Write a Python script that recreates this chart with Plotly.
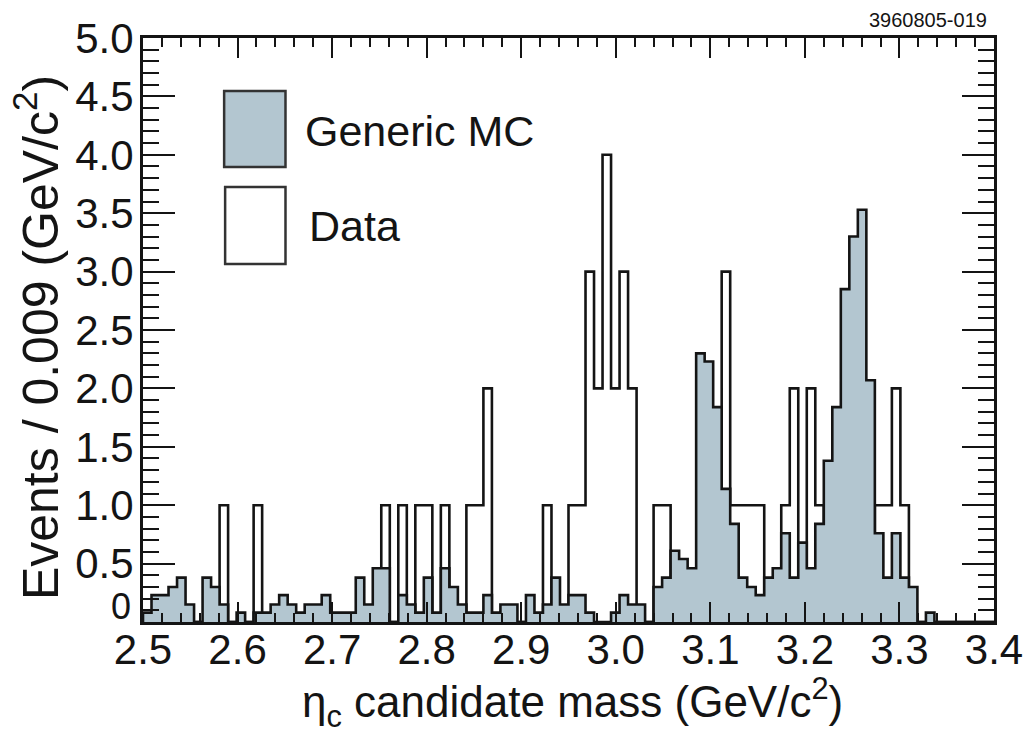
import numpy as np
import plotly.graph_objects as go

# ---- binning ----
bin_low = 2.5
bin_width = 0.009
n_bins = 100

# ---- histogram contents ----
data_counts = [
    0, 0, 0, 0, 0, 0, 0, 0, 0, 1,
    0, 0, 0, 1, 0, 0, 0, 0, 0, 0,
    0, 0, 0, 0, 0, 0, 0, 0, 1, 0,
    1, 0, 1, 1, 0, 1, 0, 0, 1, 1,
    2, 0, 0, 0, 0, 0, 0, 1, 0, 0,
    1, 1, 3, 2, 4, 2, 3, 2, 0, 0,
    1, 1, 0, 0, 0, 0, 0, 0, 3, 1,
    1, 1, 1, 0, 0, 1, 2, 0, 2, 1,
    0, 0, 0, 0, 0, 0, 1, 1, 2, 1,
    0, 0, 0, 0, 0, 0, 0, 0, 0, 0,
]

generic_mc = [
    0.08, 0.23, 0.23, 0.30, 0.38, 0.15, 0.00, 0.38, 0.30, 0.15,
    0.00, 0.08, 0.00, 0.08, 0.08, 0.15, 0.23, 0.15, 0.08, 0.15,
    0.15, 0.23, 0.08, 0.08, 0.08, 0.38, 0.15, 0.46, 0.46, 0.00,
    0.23, 0.15, 0.08, 0.38, 0.08, 0.46, 0.30, 0.15, 0.08, 0.08,
    0.23, 0.08, 0.15, 0.15, 0.00, 0.23, 0.08, 0.15, 0.38, 0.15,
    0.23, 0.23, 0.08, 0.00, 0.00, 0.08, 0.23, 0.15, 0.15, 0.00,
    0.30, 0.38, 0.61, 0.54, 0.46, 2.30, 2.23, 1.84, 1.14, 0.84,
    0.38, 0.30, 0.23, 0.38, 0.46, 0.76, 0.38, 0.68, 0.46, 0.84,
    1.38, 1.84, 2.85, 3.30, 3.53, 2.07, 0.76, 0.38, 0.76, 0.38,
    0.30, 0.00, 0.08, 0.00, 0.00, 0.00, 0.00, 0.00, 0.00, 0.00,
]

x_tick_vals = [2.5, 2.6, 2.7, 2.8, 2.9, 3.0, 3.1, 3.2, 3.3, 3.4]
x_tick_text = ["2.5", "2.6", "2.7", "2.8", "2.9", "3.0", "3.1", "3.2", "3.3", "3.4"]
# the "0" label sits slightly raised in the original; drawn separately below
y_tick_vals = [0.5, 1.0, 1.5, 2.0, 2.5, 3.0, 3.5, 4.0, 4.5, 5.0]
y_tick_text = ["0.5", "1.0", "1.5", "2.0", "2.5", "3.0", "3.5", "4.0", "4.5", "5.0"]
y_zero_label = "0"

MC_COLOR = "#b3c6d0"
INK = "#141414"
FONT = "Liberation Sans, Arial, Helvetica, sans-serif"

edges = bin_low + bin_width * np.arange(n_bins + 1)


def step_xy(values):
    xs = [edges[0]] + list(edges[:-1]) + [edges[-1], edges[-1]]
    ys = [0] + list(values) + [values[-1], 0]
    return xs, ys


fig = go.Figure()

dx, dy = step_xy(data_counts)
fig.add_trace(go.Scatter(
    x=dx, y=dy, mode="lines", line=dict(shape="hv", color=INK, width=2.6),
    name="Data", showlegend=False, hoverinfo="skip"))

mx, my = step_xy(generic_mc)
fig.add_trace(go.Scatter(
    x=mx, y=my, mode="lines", line=dict(shape="hv", color=INK, width=2.6),
    fill="tozeroy", fillcolor=MC_COLOR,
    name="Generic MC", showlegend=False, hoverinfo="skip"))

# ---- layout geometry (pixels) ----
W, H = 1035, 736
L, R, T, B = 143, 32, 38, 114
pw, ph = W - L - R, H - T - B


def px(xp):
    return (xp - L) / pw


def py(yp):
    return (H - B - yp) / ph


# legend boxes
fig.add_shape(type="rect", xref="paper", yref="paper",
              x0=px(225), x1=px(287), y0=py(167), y1=py(91),
              fillcolor=MC_COLOR, line=dict(color="#333", width=2.5))
fig.add_shape(type="rect", xref="paper", yref="paper",
              x0=px(226), x1=px(287), y0=py(264), y1=py(187),
              fillcolor="white", line=dict(color="#333", width=2.5))
fig.add_annotation(xref="paper", yref="paper", x=px(305), y=py(131),
                   text="Generic MC", showarrow=False, xanchor="left", yanchor="middle",
                   font=dict(family=FONT, size=43, color=INK))
fig.add_annotation(xref="paper", yref="paper", x=px(309), y=py(226),
                   text="Data", showarrow=False, xanchor="left", yanchor="middle",
                   font=dict(family=FONT, size=43, color=INK))

# raised "0" label of the y axis
fig.add_annotation(xref="paper", yref="paper", x=px(133), y=py(606),
                   text=y_zero_label, showarrow=False, xanchor="right", yanchor="middle",
                   font=dict(family=FONT, size=36, color=INK))

# axis titles
fig.add_annotation(xref="paper", yref="paper", x=px(36), y=py(338),
                   text="Events / 0.009 (GeV/c<sup>2</sup>)", textangle=-90,
                   showarrow=False, xanchor="center", yanchor="middle",
                   font=dict(family=FONT, size=50, color=INK))
fig.add_annotation(xref="paper", yref="paper", x=px(577), y=py(702),
                   text="η<sub>c</sub> candidate mass (GeV/c<sup>2</sup>)",
                   showarrow=False, xanchor="center", yanchor="middle",
                   font=dict(family=FONT, size=44, color=INK))
fig.add_annotation(xref="paper", yref="paper", x=px(998), y=py(20),
                   text="3960805-019", showarrow=False, xanchor="right", yanchor="middle",
                   font=dict(family=FONT, size=20, color=INK))

axis_common = dict(showline=True, linewidth=3, linecolor=INK, mirror="allticks",
                   ticks="inside", tickwidth=2, tickcolor=INK, showgrid=False,
                   zeroline=False, tickfont=dict(family=FONT, size=42, color=INK))

fig.update_xaxes(range=[2.5, 3.4], tickvals=x_tick_vals, ticktext=x_tick_text,
                 ticklen=20, ticklabelstandoff=-11,
                 minor=dict(dtick=0.02, tick0=2.5, ticklen=9, ticks="inside",
                            tickwidth=2, tickcolor=INK, showgrid=False),
                 **axis_common)
fig.update_yaxes(range=[0, 5.0], tickvals=y_tick_vals, ticktext=y_tick_text,
                 ticklen=32, ticklabelstandoff=-2,
                 minor=dict(dtick=0.1, tick0=0, ticklen=16, ticks="inside",
                            tickwidth=2, tickcolor=INK, showgrid=False),
                 **axis_common)

fig.update_layout(width=W, height=H, margin=dict(l=L, r=R, t=T, b=B),
                  paper_bgcolor="white", plot_bgcolor="white", showlegend=False)

fig.write_html("out.html")
